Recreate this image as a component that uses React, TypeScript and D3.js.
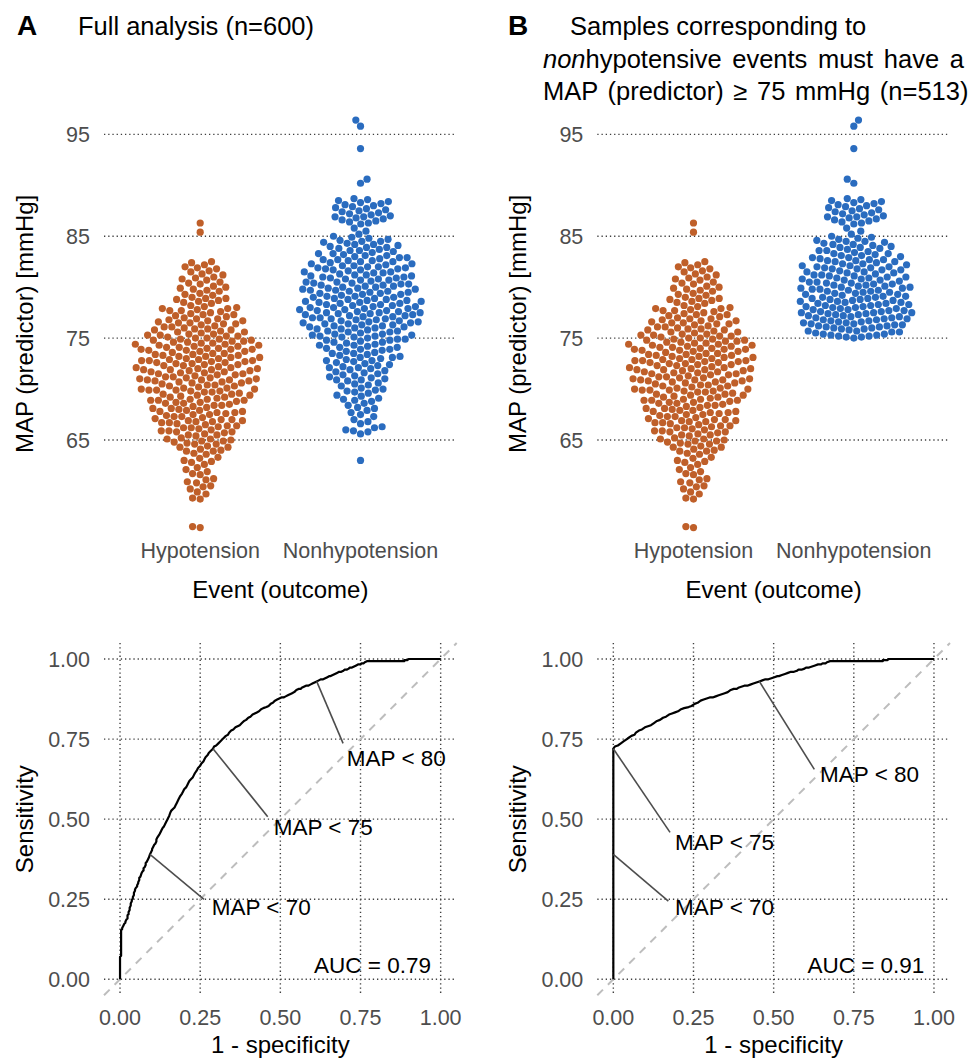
import React, { useMemo } from "react";
import * as d3 from "d3";

const hypotension = [
  56.4, 56.5,
  59.2, 59.3, 59.7, 59.9,
  60.2, 60.4, 60.5, 60.8, 60.9,
  61.1, 61.2, 61.6, 61.7, 61.9,
  62.1, 62.3, 62.6, 62.8, 62.9,
  63.0, 63.2, 63.3, 63.6, 63.7, 63.9, 63.9,
  64.0, 64.1, 64.3, 64.3, 64.4, 64.6, 64.6, 64.7, 64.8, 64.9, 64.9,
  65.0, 65.1, 65.1, 65.2, 65.4, 65.5, 65.5, 65.6, 65.7, 65.8, 65.8, 65.9, 65.9,
  66.0, 66.1, 66.2, 66.2, 66.3, 66.4, 66.4, 66.5, 66.6, 66.7, 66.7, 66.8, 66.8, 66.9, 66.9,
  67.0, 67.0, 67.1, 67.2, 67.3, 67.3, 67.4, 67.5, 67.5, 67.6, 67.7, 67.7, 67.8, 67.8, 67.9, 67.9,
  68.0, 68.1, 68.1, 68.2, 68.3, 68.4, 68.4, 68.5, 68.6, 68.6, 68.7, 68.7, 68.8, 68.9, 68.9, 68.9,
  69.0, 69.0, 69.1, 69.2, 69.2, 69.3, 69.4, 69.4, 69.5, 69.5, 69.6, 69.7, 69.7, 69.8, 69.8, 69.9, 69.9, 69.9,
  70.0, 70.0, 70.1, 70.1, 70.2, 70.3, 70.3, 70.4, 70.4, 70.5, 70.6, 70.6, 70.7, 70.7, 70.8, 70.8, 70.9, 70.9, 70.9,
  71.0, 71.0, 71.1, 71.1, 71.2, 71.2, 71.3, 71.4, 71.4, 71.5, 71.5, 71.6, 71.6, 71.7, 71.7, 71.8, 71.8, 71.9, 71.9, 71.9,
  72.0, 72.0, 72.1, 72.1, 72.2, 72.3, 72.3, 72.4, 72.4, 72.5, 72.5, 72.6, 72.6, 72.7, 72.7, 72.8, 72.8, 72.8, 72.9, 72.9,
  73.0, 73.0, 73.1, 73.1, 73.2, 73.2, 73.3, 73.3, 73.4, 73.4, 73.5, 73.5, 73.6, 73.7, 73.7, 73.8, 73.8, 73.9, 73.9, 73.9,
  74.0, 74.0, 74.1, 74.1, 74.2, 74.2, 74.3, 74.3, 74.4, 74.4, 74.5, 74.5, 74.6, 74.6, 74.7, 74.7, 74.8, 74.8, 74.9, 74.9,
  75.0, 75.0, 75.1, 75.2, 75.2, 75.3, 75.3, 75.4, 75.4, 75.5, 75.6, 75.6, 75.7, 75.8, 75.8, 75.9, 75.9,
  76.0, 76.1, 76.1, 76.2, 76.3, 76.4, 76.4, 76.5, 76.5, 76.6, 76.7, 76.7, 76.8, 76.9, 76.9,
  77.0, 77.1, 77.2, 77.3, 77.3, 77.4, 77.5, 77.6, 77.7, 77.7, 77.8, 77.9, 77.9,
  78.0, 78.1, 78.2, 78.4, 78.5, 78.6, 78.7, 78.8, 78.9, 78.9,
  79.0, 79.2, 79.3, 79.4, 79.6, 79.7, 79.8, 79.9,
  80.0, 80.1, 80.3, 80.4, 80.5, 80.7, 80.8, 80.9,
  81.0, 81.2, 81.3, 81.5, 81.6, 81.8, 81.9,
  82.0, 82.2, 82.4, 82.5,
  85.4, 86.3,
];

const nonhypotension = [
  63.0,
  65.6, 65.8, 65.9,
  66.0, 66.2, 66.3, 66.6, 66.8,
  67.0, 67.3, 67.5, 67.7, 67.9,
  68.1, 68.2, 68.4, 68.6, 68.8, 68.9,
  69.0, 69.1, 69.3, 69.4, 69.6, 69.7, 69.8, 69.9,
  70.0, 70.1, 70.3, 70.4, 70.5, 70.6, 70.8, 70.9, 70.9,
  71.0, 71.1, 71.2, 71.3, 71.4, 71.5, 71.6, 71.7, 71.8, 71.9,
  72.0, 72.1, 72.1, 72.2, 72.3, 72.4, 72.5, 72.6, 72.7, 72.8, 72.8, 72.9,
  73.0, 73.1, 73.1, 73.2, 73.3, 73.4, 73.5, 73.5, 73.6, 73.7, 73.8, 73.9, 73.9,
  74.0, 74.1, 74.1, 74.2, 74.3, 74.3, 74.4, 74.5, 74.6, 74.6, 74.7, 74.8, 74.8, 74.9, 74.9,
  75.0, 75.1, 75.1, 75.2, 75.2, 75.3, 75.3, 75.4, 75.4, 75.5, 75.6, 75.6, 75.7, 75.7, 75.8, 75.9, 75.9,
  76.0, 76.0, 76.1, 76.1, 76.2, 76.2, 76.3, 76.3, 76.4, 76.4, 76.5, 76.5, 76.6, 76.6, 76.7, 76.7, 76.8, 76.8, 76.9, 76.9,
  77.0, 77.0, 77.1, 77.1, 77.2, 77.2, 77.3, 77.3, 77.4, 77.4, 77.5, 77.5, 77.5, 77.6, 77.6, 77.7, 77.7, 77.8, 77.8, 77.9, 77.9,
  78.0, 78.0, 78.1, 78.1, 78.2, 78.2, 78.3, 78.3, 78.4, 78.4, 78.5, 78.5, 78.6, 78.6, 78.7, 78.7, 78.8, 78.8, 78.9, 78.9,
  79.0, 79.0, 79.1, 79.1, 79.2, 79.3, 79.3, 79.4, 79.4, 79.5, 79.5, 79.6, 79.6, 79.7, 79.7, 79.8, 79.8, 79.9, 79.9,
  80.0, 80.0, 80.1, 80.1, 80.2, 80.2, 80.3, 80.3, 80.4, 80.4, 80.5, 80.5, 80.6, 80.7, 80.7, 80.8, 80.8, 80.9, 80.9,
  81.0, 81.0, 81.1, 81.1, 81.2, 81.2, 81.3, 81.4, 81.4, 81.5, 81.5, 81.6, 81.7, 81.7, 81.8, 81.8, 81.9, 81.9,
  82.0, 82.0, 82.1, 82.1, 82.2, 82.3, 82.3, 82.4, 82.5, 82.5, 82.6, 82.6, 82.7, 82.7, 82.8, 82.9, 82.9,
  83.0, 83.1, 83.1, 83.2, 83.3, 83.3, 83.4, 83.5, 83.6, 83.6, 83.7, 83.8, 83.9, 83.9,
  84.0, 84.1, 84.2, 84.2, 84.3, 84.4, 84.5, 84.5, 84.6, 84.7, 84.8, 84.9,
  85.0, 85.2, 85.5, 85.8,
  86.2, 86.3, 86.4, 86.5, 86.6, 86.7, 86.8, 86.9, 86.9,
  87.0, 87.1, 87.2, 87.3, 87.4, 87.5, 87.6, 87.7, 87.8, 87.9,
  88.0, 88.1, 88.2, 88.3, 88.4, 88.5, 88.6, 88.7,
  90.2, 90.6,
  93.6, 95.8, 96.4,
];

const categories = ["Hypotension", "Nonhypotension"];
const mapTicks = [65, 75, 85, 95];
const rocTicks = [0, 0.25, 0.5, 0.75, 1];
const cutoffs = [70, 75, 80];
const aucValues = [0.79, 0.91];
const minNonhypoB = 75; // panel B: nonhypotensive samples must be >= 75

const colors = { Hypotension: "#bf5f29", Nonhypotension: "#2a6cbf" };
const FONT = "'Liberation Sans', Arial, Helvetica, sans-serif";
const GRID = "#404040";
const TICK = "#4d4d4d";

// panel columns (px)
const cols = [
  { left: 104, right: 456.7 },
  { left: 597.3, right: 950 },
];

// label placement relative to the ROC point: segment end and text (left, middle)
const labelLayout = [
  [
    { ex: 54, ey: 45, tx: 61.7, ty: 53 },
    { ex: 54.7, ey: 68, tx: 60.7, ty: 78 },
    { ex: 26.4, ey: 62, tx: 30.1, ty: 77 },
  ],
  [
    { ex: 55, ey: 46.7, tx: 61.7, ty: 53 },
    { ex: 56.7, ey: 83.7, tx: 61.7, ty: 93.7 },
    { ex: 55, ey: 88, tx: 60.7, ty: 93 },
  ],
];

function swarm(values, y, cx, d) {
  const pts = values
    .slice()
    .sort(d3.ascending)
    .map((v) => ({ v, y: y(v), x: 0 }));
  const placed = [];
  pts.forEach((p, i) => {
    const near = placed.filter((q) => Math.abs(q.y - p.y) < d);
    const cands = [0];
    near.forEach((q) => {
      const off = Math.sqrt(d * d - (q.y - p.y) ** 2);
      cands.push(q.x + off, q.x - off);
    });
    cands.sort((a, b) => Math.abs(a) - Math.abs(b) || (i % 2 ? a - b : b - a));
    const x = cands.find((c) =>
      near.every((q) => (q.x - c) ** 2 + (q.y - p.y) ** 2 >= d * d - 0.01)
    );
    p.x = x ?? 0;
    placed.push(p);
  });
  return pts.map((p) => ({ ...p, x: cx + p.x }));
}

function roc(pos, neg) {
  const cuts = Array.from(new Set([...pos, ...neg])).sort(d3.ascending);
  cuts.push(Infinity);
  return cuts.map((c) => ({
    fpr: neg.filter((v) => v < c).length / neg.length,
    tpr: pos.filter((v) => v < c).length / pos.length,
  }));
}

function Panel({ index }) {
  const col = cols[index];
  const nonhypo =
    index === 0 ? nonhypotension : nonhypotension.filter((v) => v >= minNonhypoB);

  const yMap = d3.scaleLinear().domain([54.4, 98.4]).range([548, 99.7]);
  const xCat = d3.scalePoint().domain(categories).range([col.left, col.right]).padding(0.6);
  const xR = d3.scaleLinear().domain([-0.05, 1.05]).range([col.left, col.right]);
  const yR = d3.scaleLinear().domain([-0.05, 1.05]).range([995.3, 643]);

  const dots = useMemo(
    () => [
      ...swarm(hypotension, yMap, xCat("Hypotension"), 7.7).map((p) => ({ ...p, c: "Hypotension" })),
      ...swarm(nonhypo, yMap, xCat("Nonhypotension"), 7.7).map((p) => ({ ...p, c: "Nonhypotension" })),
    ],
    [index]
  );
  const curve = useMemo(() => roc(hypotension, nonhypo), [index]);
  const line = d3
    .line()
    .x((d) => xR(d.fpr))
    .y((d) => yR(d.tpr));

  const anchors = cutoffs.map((t) => ({
    t,
    fpr: nonhypo.filter((v) => v < t).length / nonhypo.length,
    tpr: hypotension.filter((v) => v < t).length / hypotension.length,
  }));

  const midX = (col.left + col.right) / 2;
  const dotted = { stroke: GRID, strokeWidth: 1.4, strokeDasharray: "1.3 2.9" };

  return (
    <g fontFamily={FONT}>
      {/* ---- beeswarm ---- */}
      {mapTicks.map((t) => (
        <g key={"g" + t}>
          <line x1={col.left} x2={col.right} y1={yMap(t)} y2={yMap(t)} {...dotted} />
          <text x={col.left - 14} y={yMap(t)} dy="0.35em" textAnchor="end" fontSize={21.5} fill={TICK}>
            {t}
          </text>
        </g>
      ))}
      {dots.map((p, i) => (
        <circle key={i} cx={p.x} cy={p.y} r={3.6} fill={colors[p.c]} />
      ))}
      {categories.map((c) => (
        <text key={c} x={xCat(c)} y={558} textAnchor="middle" fontSize={21.5} fill={TICK}>
          {c}
        </text>
      ))}
      <text x={midX} y={598} textAnchor="middle" fontSize={24}>
        Event (outcome)
      </text>
      <text
        transform={`translate(${col.left - 71},${(548 + 99.7) / 2}) rotate(-90)`}
        textAnchor="middle"
        fontSize={24}
      >
        MAP (predictor) [mmHg]
      </text>

      {/* ---- ROC ---- */}
      {rocTicks.map((t) => (
        <g key={"r" + t}>
          <line x1={col.left} x2={col.right} y1={yR(t)} y2={yR(t)} {...dotted} />
          <line x1={xR(t)} x2={xR(t)} y1={643} y2={995.3} {...dotted} />
          <text x={col.left - 14} y={yR(t)} dy="0.35em" textAnchor="end" fontSize={21.5} fill={TICK}>
            {t.toFixed(2)}
          </text>
          <text x={xR(t)} y={1025} textAnchor="middle" fontSize={21.5} fill={TICK}>
            {t.toFixed(2)}
          </text>
        </g>
      ))}
      <line
        x1={xR(-0.05)}
        y1={yR(-0.05)}
        x2={xR(1.05)}
        y2={yR(1.05)}
        stroke="#bdbdbd"
        strokeWidth={2}
        strokeDasharray="8 7"
      />
      <path d={line(curve)} fill="none" stroke="#000" strokeWidth={2.2} strokeLinejoin="round" />
      {anchors.map((a, i) => {
        const L = labelLayout[index][i];
        const ax = xR(a.fpr);
        const ay = yR(a.tpr);
        return (
          <g key={a.t}>
            <line x1={ax} y1={ay} x2={ax + L.ex} y2={ay + L.ey} stroke="#4d4d4d" strokeWidth={1.6} />
            <text x={ax + L.tx} y={ay + L.ty} dy="0.35em" fontSize={22.5}>
              {`MAP < ${a.t}`}
            </text>
          </g>
        );
      })}
      <text x={xR(0.97)} y={yR(0.045)} dy="0.35em" textAnchor="end" fontSize={22.5}>
        {`AUC = ${aucValues[index].toFixed(2)}`}
      </text>
      <text x={midX} y={1053} textAnchor="middle" fontSize={24}>
        1 - specificity
      </text>
      <text
        transform={`translate(${col.left - 71},${(643 + 995.3) / 2}) rotate(-90)`}
        textAnchor="middle"
        fontSize={24}
      >
        Sensitivity
      </text>
    </g>
  );
}

export default function App() {
  return (
    <svg
      width={970}
      height={1060}
      style={{ position: "absolute", left: 0, top: 0, background: "#fff" }}
      fontFamily={FONT}
    >
      <text x={17} y={35} fontSize={28} fontWeight="bold">
        A
      </text>
      <text x={78} y={35} fontSize={25.5}>
        Full analysis (n=600)
      </text>
      <text x={508} y={35} fontSize={28} fontWeight="bold">
        B
      </text>
      <text x={570} y={35} fontSize={25.5}>
        Samples corresponding to
      </text>
      <text x={543} y={67.5} fontSize={25.5} style={{ wordSpacing: 3.5 }}>
        <tspan fontStyle="italic">non</tspan>hypotensive events must have a
      </text>
      <text x={543} y={100} fontSize={25.5} style={{ wordSpacing: 2.6 }}>
        MAP (predictor) ≥ 75 mmHg (n=513)
      </text>
      <Panel index={0} />
      <Panel index={1} />
    </svg>
  );
}
